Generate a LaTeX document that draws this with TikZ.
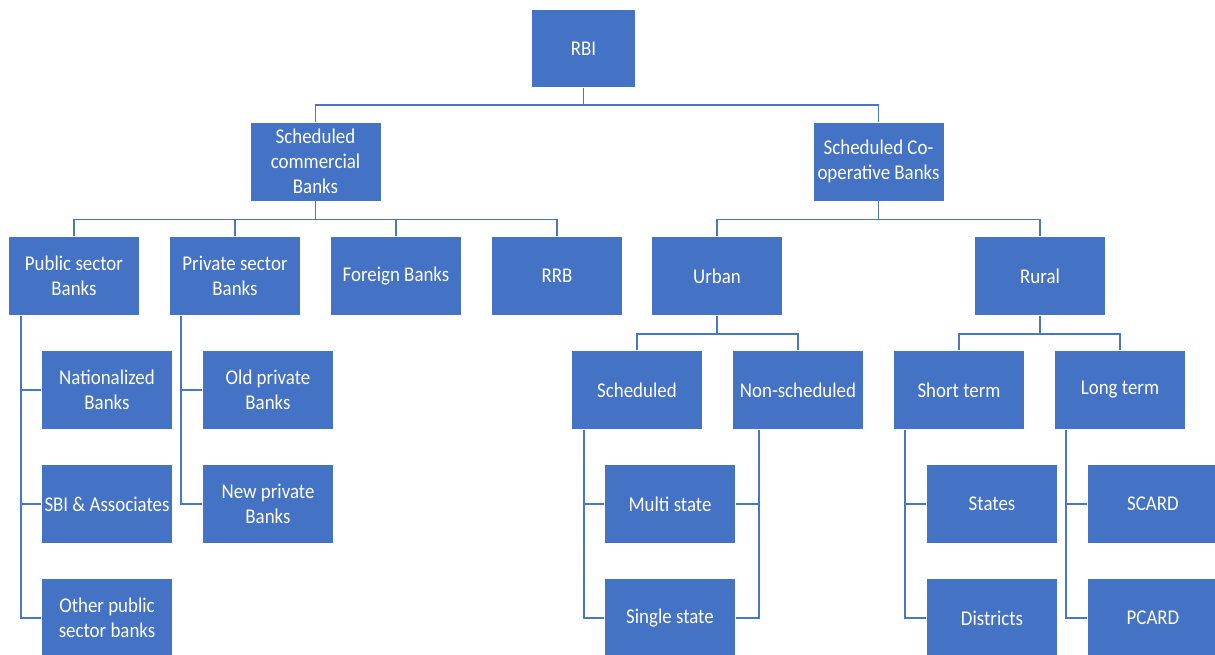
\documentclass[tikz,border=0pt]{standalone}
\usepackage{fontspec}
\setmainfont{Carlito}[FakeStretch=0.9]
\definecolor{boxblue}{HTML}{4472C4}
\definecolor{lineblue}{HTML}{4A76C6}
\begin{document}
\begin{tikzpicture}[x=1pt,y=-1pt,
  box/.style={rectangle, fill=boxblue, draw=white, line width=0.8pt, text=white,
    minimum width=131pt, minimum height=79pt, align=center, inner sep=1pt,
    font=\fontsize{21}{25}\selectfont},
  link/.style={draw=lineblue, line width=1.4pt}]
\useasboundingbox (0,0) rectangle (1215,654);
\fill[white] (0,0) rectangle (1215,654);
% level 0
\node[box, minimum width=104pt, minimum height=78pt] (rbi) at (583.5,48.5) {RBI};
% level 1
\node[box] (scb) at (315.5,161.5) {Scheduled\\commercial\\Banks};
\node[box] (scob) at (878.5,161.5) {Scheduled Co-\\operative Banks};
% level 2
\node[box] (pub) at (74,276) {Public sector\\Banks};
\node[box] (pri) at (235,276) {Private sector\\Banks};
\node[box] (for) at (396,276) {Foreign Banks};
\node[box] (rrb) at (557,276) {RRB};
\node[box] (urb) at (717,276) {Urban};
\node[box] (rur) at (1040,276) {Rural};
% level 3
\node[box] (nat) at (107,390) {Nationalized\\Banks};
\node[box] (old) at (268,390) {Old private\\Banks};
\node[box] (sch) at (637,390) {Scheduled};
\node[box] (non) at (798,390) {Non-scheduled};
\node[box] (sho) at (959,390) {Short term};
\node[box] (lon) at (1120,390) {Long term};
% level 4
\node[box] (sbi) at (107,504) {SBI \& Associates};
\node[box] (new) at (268,504) {New private\\Banks};
\node[box] (mul) at (670,504) {Multi state};
\node[box] (sta) at (992,504) {States};
\node[box] (sca) at (1153,504) {SCARD};
% level 5
\node[box] (oth) at (107,618) {Other public\\sector banks};
\node[box] (sin) at (670,618) {Single state};
\node[box] (dis) at (992,618) {Districts};
\node[box] (pca) at (1153,618) {PCARD};
% tree connectors
\draw[link] (rbi.south) -- ++(0,17) -| (scb.north);
\draw[link] (rbi.south) -- ++(0,17) -| (scob.north);
\foreach \c in {pub,pri,for,rrb}
  \draw[link] (scb.south) -- ++(0,18) -| (\c.north);
\foreach \c in {urb,rur}
  \draw[link] (scob.south) -- ++(0,18) -| (\c.north);
\foreach \c in {sch,non}
  \draw[link] (urb.south) -- ++(0,18) -| (\c.north);
\foreach \c in {sho,lon}
  \draw[link] (rur.south) -- ++(0,18) -| (\c.north);
% side connectors
\foreach \c in {nat,sbi,oth}
  \draw[link] ([xshift=13pt]pub.south west) |- (\c.west);
\foreach \c in {old,new}
  \draw[link] ([xshift=12pt]pri.south west) |- (\c.west);
\foreach \c in {mul,sin}
  \draw[link] ([xshift=13pt]sch.south west) |- (\c.west);
\foreach \c in {mul,sin}
  \draw[link] ([xshift=27pt]non.south west) |- (\c.east);
\foreach \c in {sta,dis}
  \draw[link] ([xshift=12pt]sho.south west) |- (\c.west);
\foreach \c in {sca,pca}
  \draw[link] ([xshift=12pt]lon.south west) |- (\c.west);
\end{tikzpicture}
\end{document}
